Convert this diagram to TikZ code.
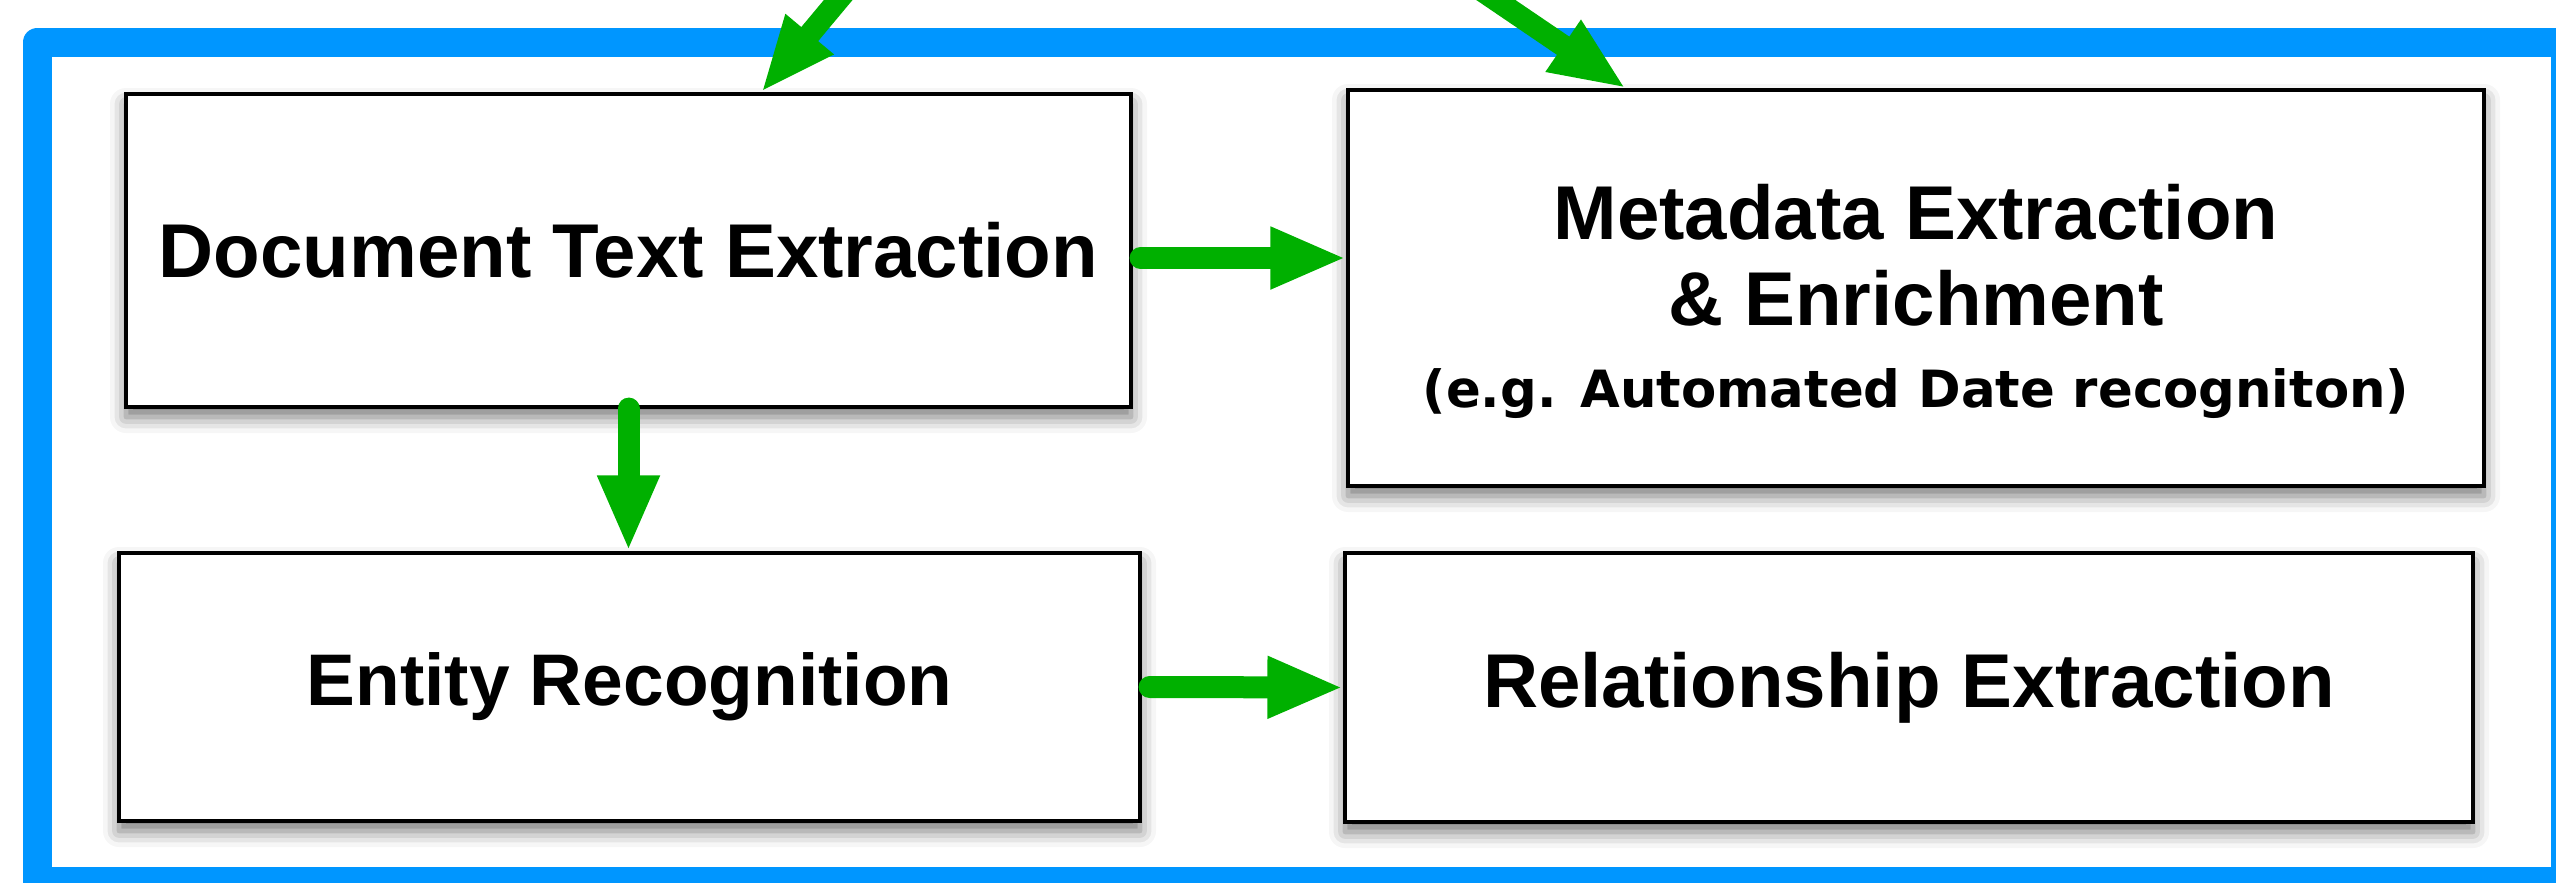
\documentclass[tikz,border=0pt]{standalone}
\usepackage{fontspec}
\setmainfont{Liberation Sans}
\newfontfamily\notefont{DejaVu Sans}
\usepackage{xcolor}
\usetikzlibrary{arrows.meta,shadows.blur}

\definecolor{frameblue}{RGB}{0,150,255}
\definecolor{flowgreen}{RGB}{0,176,0}

\begin{document}
\begin{tikzpicture}[
  stage/.style={draw=black, line width=0.9pt, fill=white, inner sep=0pt, align=center,
    font=\bfseries\fontsize{21.7}{24.5}\selectfont,
    blur shadow={shadow xshift=0pt, shadow yshift=-0.1cm, shadow blur radius=0.16cm, shadow opacity=55}},
  flow/.style={draw=flowgreen, line width=0.22cm, line cap=round,
    -{Triangle[length=0.76cm, width=0.57cm]}}
]
\clip (0,0) rectangle (25.56,8.82);

% blue frame round the pipeline
\draw[frameblue, line width=0.29cm, line join=round] (0.375,0.005) rectangle (25.655,8.40);

% pipeline stages
\node[stage, minimum width=10.05cm, minimum height=3.13cm] (doctext) at (6.285,6.315) {Document Text Extraction};
\node[stage, minimum width=11.36cm, minimum height=3.96cm] (meta) at (19.16,5.94)
  {\rule{0pt}{0.82cm}Metadata Extraction\\ \& Enrichment\\[-1pt]{\notefont\fontsize{14.6}{17}\selectfont (e.g. Automated Date recogniton)}};
\node[stage, minimum width=10.21cm, minimum height=2.68cm, font=\bfseries\fontsize{20.8}{24}\selectfont] (entity) at (6.295,1.95) {Entity Recognition};
\node[stage, minimum width=11.28cm, minimum height=2.69cm] (relation) at (19.09,1.945) {Relationship Extraction};

% incoming arrows from above
\coordinate (inA) at (8.90,9.44);
\coordinate (inB) at (14.20,9.335);
\draw[flow] (inA) -- ([xshift=1.325cm]doctext.north);
\draw[flow] (inB) -- ([xshift=-2.9cm]meta.north);

% flow between stages
\draw[flow] ([xshift=0.08cm,yshift=-0.075cm]doctext.east) -- ([yshift=-0.075cm]doctext.east -| meta.west);
\draw[flow] (doctext.south) -- (doctext.south |- entity.north);
\draw[flow] ([xshift=0.08cm]entity.east) -- (relation.west);
\end{tikzpicture}
\end{document}
